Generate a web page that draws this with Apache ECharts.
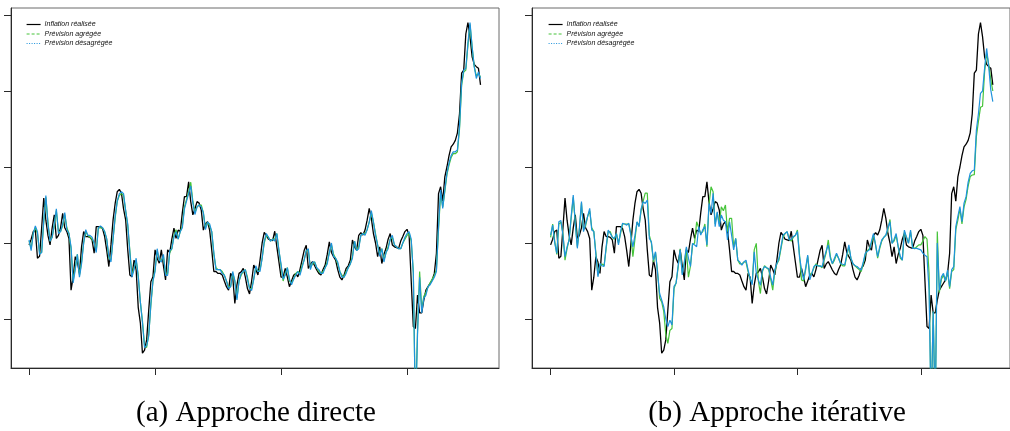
<!DOCTYPE html>
<html><head><meta charset="utf-8">
<script src="https://cdn.jsdelivr.net/npm/echarts@6/dist/echarts.min.js"></script>
<style>html,body{margin:0;padding:0;background:#fff}#c{width:1010px;height:431px}</style>
</head><body><div id="c"></div>
<script>
// month index 0 = first observation; ticks every 60 months
const xTicks = [0, 60, 120, 180];
const yTicks = [0, 2, 4, 6, 8];
const names = ['Inflation réalisée', 'Prévision agrégée', 'Prévision désagrégée'];
const captions = ['(a) Approche directe', '(b) Approche itérative'];

const realised = [
1.95,2.10,2.30,2.34,1.60,1.65,2.40,3.18,2.60,2.20,1.95,2.40,
2.74,2.12,2.20,2.40,2.78,2.40,2.30,2.12,0.76,1.10,1.64,1.50,
1.20,1.90,2.30,2.17,2.17,2.15,2.08,1.73,2.43,2.43,2.43,2.38,
2.17,1.80,1.38,1.95,2.60,3.04,3.35,3.41,3.31,2.90,2.61,1.82,
1.16,1.11,1.55,1.29,0.30,-0.10,-0.90,-0.82,-0.55,0.24,0.98,1.11,
1.82,1.60,1.47,1.82,1.40,1.03,1.82,1.75,2.10,2.39,2.12,2.34,
2.30,2.80,3.22,3.22,3.61,3.09,2.74,2.90,3.09,3.05,2.87,2.34,
2.50,2.56,2.34,1.82,1.25,1.25,1.20,1.20,1.16,1.00,0.85,0.76,
1.20,1.10,0.41,0.90,1.20,1.24,1.33,1.10,0.80,0.66,1.00,1.42,
1.30,1.16,1.55,2.00,2.28,2.20,2.10,2.08,2.06,2.31,1.90,1.50,
1.10,1.10,1.33,1.10,0.85,1.00,1.15,1.20,1.11,1.30,1.55,1.80,
1.94,1.33,1.45,1.51,1.40,1.29,1.20,1.16,1.30,1.42,1.70,2.03,
1.75,1.64,1.55,1.30,1.10,1.03,1.15,1.33,1.40,1.55,2.08,1.90,
1.81,2.20,2.27,2.21,2.34,2.60,2.91,2.65,2.25,2.00,1.64,1.90,
1.46,1.70,1.86,2.10,2.25,1.95,1.90,1.88,1.86,2.05,2.17,2.30,
2.36,2.20,1.00,-0.20,-0.25,0.63,0.16,0.16,0.50,0.76,0.85,0.94,
1.03,1.20,1.73,3.30,3.48,3.10,3.74,4.00,4.30,4.53,4.60,4.70,
4.90,5.40,6.47,6.55,7.50,7.80,7.43,6.90,6.70,6.64,6.60,6.16];

// (a) direct approach
const aggDirect = [
2.05,1.85,2.25,2.40,2.25,1.75,1.75,2.55,3.20,2.55,2.05,2.15,
2.45,2.85,2.30,2.30,2.45,2.75,2.40,2.25,1.85,1.00,1.35,1.70,
1.15,1.50,2.00,2.30,2.20,2.15,2.10,2.00,1.80,2.40,2.40,2.40,
2.30,2.10,1.60,1.55,2.10,2.65,3.10,3.25,3.30,3.25,2.85,2.45,
1.80,1.15,1.35,1.55,1.15,0.45,-0.05,-0.70,-0.75,-0.40,0.35,1.00,
1.30,1.80,1.55,1.55,1.65,1.20,1.20,1.75,1.85,2.20,2.35,2.10,
2.30,2.45,2.95,3.15,3.35,3.60,3.10,2.80,2.95,3.00,3.00,2.80,
2.40,2.55,2.45,2.30,1.70,1.35,1.30,1.30,1.25,1.15,1.00,0.85,
0.85,1.20,1.00,0.55,1.00,1.15,1.25,1.30,1.10,0.80,0.80,1.05,
1.35,1.25,1.30,1.60,2.00,2.20,2.15,2.05,2.10,2.10,2.25,1.80,
1.40,1.00,1.20,1.35,1.00,0.95,1.05,1.20,1.25,1.20,1.40,1.55,
1.80,1.80,1.35,1.45,1.50,1.35,1.25,1.20,1.25,1.35,1.50,1.75,
1.95,1.70,1.60,1.45,1.25,1.15,1.10,1.25,1.35,1.45,1.65,2.05,
1.80,1.90,2.20,2.25,2.25,2.35,2.55,2.80,2.55,2.25,1.95,1.70,
1.85,1.55,1.75,1.90,2.10,2.15,1.95,1.90,1.85,1.85,2.00,2.10,
2.20,2.25,2.05,1.25,-2.50,-0.30,1.25,0.25,0.60,0.70,0.85,0.95,
1.05,1.15,1.30,2.35,3.30,2.95,3.35,3.80,4.05,4.25,4.35,4.35,
4.40,5.00,6.15,6.50,6.55,7.20,7.75,7.15,6.65,6.40,6.45,6.37];

const disaggDirect = [
2.08,1.80,2.25,2.45,2.30,1.70,1.75,2.60,3.25,2.50,2.05,2.15,
2.50,2.90,2.25,2.30,2.50,2.80,2.35,2.25,1.90,0.95,1.30,1.70,
1.10,1.45,2.00,2.35,2.20,2.20,2.15,2.00,1.75,2.40,2.45,2.40,
2.30,2.10,1.65,1.50,2.10,2.70,3.10,3.30,3.35,3.30,2.85,2.50,
1.75,1.10,1.30,1.60,1.10,0.45,-0.10,-0.75,-0.70,-0.45,0.40,1.00,
1.25,1.85,1.55,1.50,1.70,1.15,1.15,1.80,1.85,2.15,2.30,2.10,
2.30,2.40,2.90,3.10,3.30,3.50,3.05,2.75,2.95,3.00,2.95,2.80,
2.35,2.55,2.50,2.30,1.75,1.30,1.30,1.30,1.20,1.15,1.00,0.80,
0.85,1.25,1.00,0.50,1.00,1.20,1.25,1.30,1.05,0.80,0.75,1.05,
1.40,1.25,1.25,1.60,2.05,2.25,2.15,2.05,2.10,2.05,2.25,1.80,
1.45,1.05,1.15,1.35,1.05,0.90,1.05,1.15,1.25,1.15,1.35,1.55,
1.80,1.85,1.30,1.50,1.50,1.35,1.30,1.20,1.20,1.35,1.45,1.75,
2.00,1.65,1.60,1.50,1.25,1.10,1.10,1.20,1.35,1.45,1.60,2.05,
1.80,1.85,2.20,2.25,2.20,2.35,2.55,2.85,2.55,2.20,1.95,1.65,
1.85,1.50,1.75,1.85,2.10,2.20,1.95,1.90,1.85,1.85,2.00,2.15,
2.25,2.30,2.10,1.20,-2.50,-0.40,1.10,0.16,0.55,0.63,0.85,0.90,
1.00,1.10,1.25,2.43,3.40,2.91,3.40,3.84,4.10,4.30,4.40,4.40,
4.45,5.06,6.20,6.55,6.60,7.26,7.80,7.17,6.64,6.33,6.50,6.33];

// (b) iterative approach
const aggIter = [
2.15,2.50,2.05,1.70,2.50,2.55,2.25,1.55,1.85,2.10,2.65,3.20,
2.55,1.90,2.35,3.05,2.35,2.45,2.70,2.85,2.40,2.30,1.75,1.15,
1.40,1.45,1.40,1.85,2.30,2.30,2.15,2.10,2.25,2.00,2.25,2.50,
2.50,2.50,2.50,2.25,1.64,2.10,2.55,2.45,2.85,3.10,3.31,3.31,
2.20,2.00,1.50,1.75,1.25,0.55,0.45,0.20,-0.40,-0.64,-0.30,-0.25,
0.80,0.95,1.35,1.85,1.20,1.45,1.85,1.10,1.40,1.95,2.00,2.56,
2.40,2.25,2.30,2.50,1.90,3.00,3.48,3.35,2.50,2.80,2.50,2.95,
2.85,3.00,2.30,2.65,2.65,1.90,2.12,1.55,1.45,1.45,1.50,1.50,
1.25,1.05,0.95,1.82,1.99,1.00,0.67,1.25,1.40,1.35,1.30,1.05,
0.76,1.25,1.45,1.55,1.85,2.15,2.25,2.30,2.10,2.05,2.15,2.20,
2.34,1.70,1.03,1.00,1.30,1.65,1.16,1.20,1.35,1.45,1.40,1.40,
1.35,1.55,1.75,2.08,1.65,1.45,1.55,1.70,1.60,1.45,1.40,1.40,
1.65,1.90,1.60,1.45,1.40,1.35,1.30,1.25,1.45,1.70,1.80,1.85,
2.00,2.20,1.95,1.60,1.85,2.05,2.15,2.20,2.35,2.62,2.00,2.05,
2.20,1.90,1.60,1.55,2.30,2.15,2.00,2.30,1.90,1.85,1.90,1.95,
1.95,2.05,2.17,2.10,1.20,-2.50,0.20,-2.50,2.30,0.70,1.05,1.15,
1.00,1.25,0.80,1.25,1.30,2.35,2.60,2.90,2.50,2.95,3.15,3.50,
3.75,3.79,3.80,4.80,5.20,5.57,5.60,6.50,7.00,6.70,6.30,6.00];

const disaggIter = [
2.21,2.47,2.00,1.73,2.56,2.59,2.20,1.64,1.90,2.08,2.70,3.26,
2.50,1.86,2.40,3.09,2.30,2.50,2.70,2.91,2.34,2.30,1.70,1.11,
1.46,1.40,1.38,1.90,2.34,2.25,2.15,2.12,2.25,1.95,2.30,2.52,
2.50,2.47,2.52,2.20,1.90,2.20,2.56,2.43,2.90,3.09,3.04,3.13,
2.12,2.03,1.55,1.77,1.20,0.67,0.50,0.32,0.00,-0.20,-0.03,-0.16,
0.86,0.94,1.40,1.82,1.16,1.50,1.90,1.60,1.38,1.99,1.95,1.90,
2.43,2.21,2.35,2.43,1.95,3.04,2.78,3.31,2.43,2.82,2.43,2.74,
2.60,2.56,2.08,2.56,2.20,1.82,2.12,1.55,1.50,1.42,1.50,1.55,
1.29,1.07,0.90,1.77,1.20,1.03,0.89,1.29,1.38,1.35,1.33,1.10,
0.89,1.30,1.46,1.60,1.90,2.21,2.25,2.30,2.08,2.10,2.17,2.20,
2.30,1.64,1.30,1.03,1.35,1.68,1.03,1.20,1.38,1.42,1.40,1.39,
1.38,1.60,1.80,1.95,1.60,1.46,1.60,1.73,1.60,1.46,1.44,1.42,
1.70,1.95,1.60,1.46,1.40,1.38,1.33,1.29,1.50,1.73,1.78,1.82,
2.05,2.25,1.95,1.64,1.90,2.08,2.15,2.21,2.40,2.56,1.99,2.10,
2.25,1.90,1.65,1.55,2.34,2.15,1.99,2.34,1.86,1.86,1.86,1.84,
1.82,1.73,1.68,1.64,0.76,-2.50,0.20,-2.50,2.00,0.76,1.11,1.20,
1.00,1.29,0.85,1.30,1.38,2.43,2.70,2.96,2.56,3.05,3.22,3.60,
3.83,3.90,3.92,4.97,5.40,5.94,6.00,6.60,7.12,6.64,6.03,5.72];

const COLORS = ['#000000', '#46c43a', '#1f93dc'];
const pts = arr => arr.map((v, i) => [i, v]);

const panels = [
  {left: 11, xmin: -8.6, agg: aggDirect, dis: disaggDirect, legLeft: 26, cap: 256},
  {left: 532, xmin: -9.05, agg: aggIter, dis: disaggIter, legLeft: 548, cap: 777}
];
const YMIN = -1.2895, YMAX = 8.1842, XSPAN = 232.4;

const grid = [], xAxis = [], yAxis = [], series = [], legend = [], graphic = [];
panels.forEach((p, g) => {
  grid.push({left: p.left, top: 8, width: 488, height: 360, show: true,
    borderColor: '#6a6a6a', borderWidth: 1, backgroundColor: 'transparent'});
  xAxis.push({type: 'value', gridIndex: g, min: p.xmin, max: p.xmin + XSPAN,
    axisLine: {show: true, onZero: false, lineStyle: {color: '#2a2a2a', width: 1}},
    axisTick: {show: true, length: 7, customValues: xTicks, lineStyle: {color: '#2a2a2a', width: 1}},
    axisLabel: {show: false, customValues: xTicks},
    splitLine: {show: false}});
  yAxis.push({type: 'value', gridIndex: g, min: YMIN, max: YMAX,
    axisLine: {show: true, onZero: false, lineStyle: {color: '#2a2a2a', width: 1}},
    axisTick: {show: true, length: 7, customValues: yTicks, lineStyle: {color: '#2a2a2a', width: 1}},
    axisLabel: {show: false, customValues: yTicks},
    splitLine: {show: false}});
  const sets = [realised, p.agg, p.dis];
  sets.forEach((arr, k) => {
    series.push({type: 'line', name: names[k], xAxisIndex: g, yAxisIndex: g,
      data: pts(arr), symbol: 'none', showSymbol: false, clip: true,
      animation: false, silent: true,
      lineStyle: {color: COLORS[k], width: k === 0 ? 1.3 : 1.2},
      itemStyle: {color: COLORS[k]}, z: 2 + k});
  });
  legend.push({left: p.legLeft, top: 21, orient: 'vertical', itemWidth: 14, itemHeight: 7,
    itemGap: 2.5, selectedMode: false, padding: 0,
    itemStyle: {opacity: 0, borderWidth: 0},
    textStyle: {fontSize: 7, fontStyle: 'italic', fontFamily: 'Liberation Sans', color: '#111', padding: [0,0,0,-1]},
    data: [
      {name: names[0], lineStyle: {type: 'solid', width: 1.2}},
      {name: names[1], lineStyle: {type: [3, 2], width: 1.2}},
      {name: names[2], lineStyle: {type: [1, 1.5], width: 1.2}}
    ]});
  graphic.push({type: 'text', x: p.cap, y: 413, silent: true,
    style: {text: captions[g], fill: '#000', font: '29px "Liberation Serif"',
      textAlign: 'center', textVerticalAlign: 'middle'}});
});

const chart = echarts.init(document.getElementById('c'), null, {renderer: 'canvas'});
chart.setOption({animation: false, backgroundColor: '#fff', grid, xAxis, yAxis, series, legend, graphic});
</script></body></html>
